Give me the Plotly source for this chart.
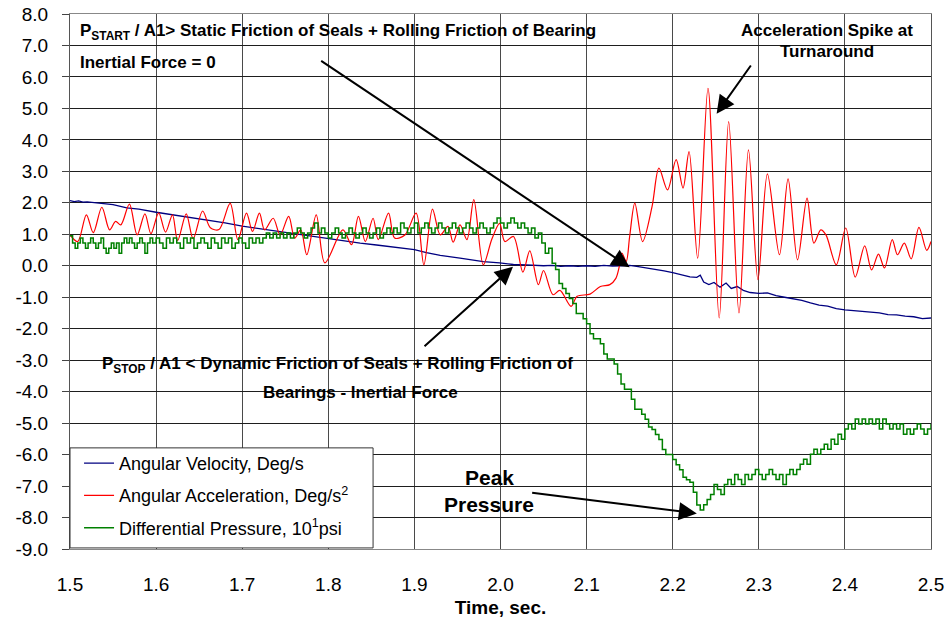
import plotly.graph_objects as go

# ---------------- data ----------------
vel_t = [1.500, 1.505, 1.510, 1.515, 1.520, 1.535, 1.550, 1.566, 1.580, 1.600,
         1.620, 1.633, 1.645, 1.660, 1.680, 1.700, 1.720, 1.740, 1.757, 1.770,
         1.786, 1.800, 1.820, 1.837, 1.856, 1.876, 1.890, 1.900, 1.914, 1.930,
         1.953, 1.970, 1.980, 1.999, 2.015, 2.030, 2.050, 2.060, 2.070, 2.080,
         2.090, 2.100, 2.110, 2.120, 2.130, 2.140, 2.150, 2.160, 2.170, 2.180,
         2.190, 2.200, 2.210, 2.220, 2.228, 2.232, 2.236, 2.242, 2.248, 2.255,
         2.262, 2.268, 2.275, 2.282, 2.290, 2.300, 2.310, 2.320, 2.330, 2.340,
         2.350, 2.360, 2.370, 2.380, 2.390, 2.400, 2.410, 2.420, 2.430, 2.440,
         2.450, 2.460, 2.470, 2.480, 2.490, 2.500]
vel_v = [2.07, 2.04, 2.06, 2.02, 2.03, 1.98, 1.94, 1.84, 1.80, 1.70,
         1.62, 1.57, 1.50, 1.44, 1.36, 1.26, 1.18, 1.10, 1.04, 1.00,
         0.93, 0.88, 0.80, 0.72, 0.66, 0.59, 0.55, 0.51, 0.42, 0.33,
         0.24, 0.18, 0.13, 0.09, 0.04, 0.03, 0.00, 0.01, -0.02, 0.00,
         -0.02, 0.00, -0.02, 0.01, -0.01, 0.00, 0.01, -0.03, -0.07, -0.10,
         -0.16, -0.22, -0.28, -0.35, -0.37, -0.30, -0.52, -0.60, -0.53, -0.68,
         -0.55, -0.72, -0.66, -0.78, -0.85, -0.88, -0.86, -0.95, -1.00, -1.05,
         -1.10, -1.18, -1.25, -1.28, -1.36, -1.40, -1.42, -1.45, -1.48, -1.50,
         -1.55, -1.56, -1.60, -1.62, -1.68, -1.66]

acc_t = [1.500, 1.509, 1.519, 1.527, 1.537, 1.546, 1.553, 1.559, 1.569, 1.578,
         1.587, 1.594, 1.603, 1.611, 1.619, 1.625, 1.635, 1.643, 1.654, 1.663,
         1.673, 1.686, 1.695, 1.705, 1.712, 1.720, 1.726, 1.736, 1.744, 1.754,
         1.761, 1.768, 1.775, 1.786, 1.796, 1.817, 1.827, 1.835, 1.843, 1.852,
         1.858, 1.870, 1.877, 1.889, 1.902, 1.911, 1.921, 1.930, 1.939, 1.945,
         1.953, 1.961, 1.969, 1.980, 1.990, 1.999, 2.005, 2.015, 2.026, 2.034,
         2.044, 2.050, 2.061, 2.069, 2.082, 2.089, 2.104, 2.116, 2.127, 2.134,
         2.138, 2.141, 2.146, 2.150, 2.156, 2.165, 2.176, 2.184, 2.194, 2.204,
         2.212, 2.219, 2.229, 2.241, 2.254, 2.265, 2.277, 2.288, 2.299, 2.310,
         2.324, 2.334, 2.345, 2.356, 2.364, 2.372, 2.378, 2.390, 2.401, 2.412,
         2.423, 2.431, 2.439, 2.446, 2.455, 2.461, 2.469, 2.477, 2.486, 2.495,
         2.500]
acc_v = [0.98, 0.77, 1.62, 1.05, 1.86, 1.14, 1.41, 1.30, 1.96, 0.98,
         1.65, 1.02, 1.68, 1.07, 1.62, 0.80, 1.65, 0.86, 1.74, 1.21,
         1.15, 1.98, 0.83, 1.67, 1.09, 1.67, 1.14, 1.51, 0.98, 1.57,
         0.88, 1.14, 0.35, 1.62, 0.09, 1.14, 0.67, 1.57, 0.77, 1.51,
         0.83, 1.67, 0.88, 0.98, 1.67, 0.03, 1.80, 0.98, 1.25, 0.75,
         1.30, 0.83, 2.10, 0.03, 0.85, 1.35, 0.77, 0.93, -0.20, 0.47,
         -0.60, -0.15, -0.92, -0.78, -1.29, -0.97, -0.90, -0.66, -0.60, -0.40,
         -0.02, 0.40, 0.14, 0.93, 1.99, 0.77, 1.88, 3.10, 2.41, 3.37,
         2.47, 3.63, 0.24, 5.64, -1.66, 4.58, -1.50, 3.68, -0.44, 2.92,
         0.35, 2.76, 0.19, 2.15, 0.72, 1.14, 0.98, 0.03, 1.20, -0.36,
         0.63, -0.13, 0.37, -0.07, 0.83, 0.35, 0.72, 0.22, 1.22, 0.49,
         0.77]

dp_t = [1.500, 1.503, 1.506, 1.509, 1.512, 1.515, 1.518, 1.521, 1.524, 1.527,
        1.530, 1.533, 1.536, 1.539, 1.542, 1.545, 1.548, 1.551, 1.554, 1.557,
        1.560, 1.563, 1.566, 1.569, 1.572, 1.575, 1.578, 1.581, 1.584, 1.587,
        1.590, 1.593, 1.596, 1.600, 1.604, 1.608, 1.612, 1.616, 1.620, 1.624,
        1.628, 1.632, 1.636, 1.640, 1.644, 1.648, 1.652, 1.656, 1.660, 1.664,
        1.668, 1.672, 1.676, 1.680, 1.684, 1.688, 1.692, 1.696, 1.700, 1.704,
        1.708, 1.712, 1.716, 1.720, 1.724, 1.728, 1.732, 1.736, 1.740, 1.744,
        1.748, 1.752, 1.756, 1.760, 1.764, 1.768, 1.772, 1.776, 1.780, 1.784,
        1.788, 1.792, 1.796, 1.800, 1.804, 1.808, 1.812, 1.816, 1.820, 1.824,
        1.828, 1.832, 1.836, 1.840, 1.844, 1.848, 1.852, 1.856, 1.860, 1.864,
        1.868, 1.872, 1.876, 1.880, 1.884, 1.888, 1.892, 1.896, 1.900, 1.904,
        1.908, 1.912, 1.916, 1.920, 1.924, 1.928, 1.932, 1.936, 1.940, 1.944,
        1.948, 1.952, 1.956, 1.960, 1.964, 1.968, 1.972, 1.976, 1.980, 1.984,
        1.988, 1.992, 1.996, 2.000, 2.004, 2.008, 2.012, 2.016, 2.020, 2.024,
        2.028, 2.032, 2.036, 2.040, 2.044, 2.048, 2.052, 2.056, 2.060, 2.064,
        2.068, 2.072, 2.076, 2.080, 2.084, 2.088, 2.092, 2.096, 2.100, 2.104,
        2.108, 2.112, 2.116, 2.120, 2.124, 2.128, 2.132, 2.136, 2.140, 2.144,
        2.148, 2.152, 2.156, 2.160, 2.164, 2.168, 2.172, 2.176, 2.180, 2.184,
        2.188, 2.192, 2.196, 2.200, 2.204, 2.208, 2.212, 2.216, 2.220, 2.224,
        2.228, 2.232, 2.236, 2.240, 2.244, 2.248, 2.252, 2.256, 2.260, 2.264,
        2.268, 2.272, 2.276, 2.280, 2.284, 2.288, 2.292, 2.296, 2.300, 2.304,
        2.308, 2.312, 2.316, 2.320, 2.324, 2.328, 2.332, 2.336, 2.340, 2.344,
        2.348, 2.352, 2.356, 2.360, 2.364, 2.368, 2.372, 2.376, 2.380, 2.384,
        2.388, 2.392, 2.396, 2.400, 2.404, 2.408, 2.412, 2.416, 2.420, 2.424,
        2.428, 2.432, 2.436, 2.440, 2.444, 2.448, 2.452, 2.456, 2.460, 2.464,
        2.468, 2.472, 2.476, 2.480, 2.484, 2.488, 2.492, 2.496, 2.500]
dp_v = [0.95, 0.72, 0.56, 0.72, 0.88, 0.72, 0.56, 0.72, 0.88, 0.72,
        0.56, 0.72, 0.88, 0.56, 0.40, 0.56, 0.72, 0.56, 0.72, 0.40,
        0.72, 0.88, 0.72, 0.88, 0.72, 0.56, 0.72, 0.88, 0.72, 0.40,
        0.72, 0.88, 0.72, 0.88, 0.72, 0.56, 0.88, 0.72, 0.88, 0.72,
        0.56, 0.88, 0.72, 0.88, 0.56, 0.72, 0.88, 0.72, 0.56, 0.88,
        0.72, 0.56, 0.88, 0.72, 0.88, 0.56, 0.72, 0.88, 0.72, 0.56,
        0.88, 0.72, 0.88, 0.72, 0.88, 1.04, 0.88, 1.04, 0.88, 1.04,
        0.88, 1.04, 0.88, 1.04, 1.20, 1.04, 0.88, 1.04, 1.20, 1.36,
        1.04, 1.20, 1.04, 0.88, 1.04, 1.20, 1.04, 0.88, 1.04, 1.20,
        1.04, 0.88, 1.04, 1.20, 1.04, 0.88, 1.04, 1.20, 0.88, 1.04,
        1.20, 1.04, 1.20, 1.04, 1.36, 1.20, 1.04, 1.20, 1.36, 1.04,
        1.20, 1.36, 1.20, 1.04, 1.20, 1.36, 1.20, 1.04, 1.20, 1.36,
        1.20, 1.04, 1.20, 1.36, 1.20, 1.04, 1.20, 1.36, 1.20, 1.04,
        1.20, 1.36, 1.52, 1.36, 1.20, 1.36, 1.52, 1.36, 1.20, 1.36,
        1.20, 1.04, 1.20, 0.88, 1.04, 0.72, 0.40, 0.56, 0.08, -0.12,
        -0.56, -0.72, -0.88, -1.04, -1.20, -1.52, -1.52, -1.68, -1.84, -2.16,
        -2.32, -2.32, -2.48, -2.80, -2.96, -2.96, -3.12, -3.44, -3.76, -3.92,
        -3.92, -4.24, -4.56, -4.56, -4.72, -4.88, -5.12, -5.20, -5.36, -5.52,
        -5.84, -6.00, -6.00, -6.16, -6.32, -6.48, -6.72, -6.80, -6.88, -7.20,
        -7.60, -7.76, -7.59, -7.43, -7.27, -6.95, -7.11, -7.27, -6.95, -6.79,
        -6.95, -6.63, -6.79, -6.95, -6.63, -6.79, -6.63, -6.47, -6.63, -6.79,
        -6.63, -6.47, -6.63, -6.79, -6.63, -6.95, -6.63, -6.47, -6.63, -6.47,
        -6.31, -6.15, -6.31, -5.99, -5.83, -5.99, -5.83, -5.67, -5.83, -5.51,
        -5.67, -5.35, -5.51, -5.19, -5.03, -5.19, -4.87, -5.03, -4.87, -5.03,
        -4.87, -5.03, -4.87, -5.19, -4.87, -5.03, -5.19, -5.03, -5.19, -5.03,
        -5.35, -5.19, -5.35, -5.19, -5.03, -5.19, -5.35, -5.19, -5.03]

x_ticks = [1.5, 1.6, 1.7, 1.8, 1.9, 2.0, 2.1, 2.2, 2.3, 2.4, 2.5]
x_tick_text = ["1.5", "1.6", "1.7", "1.8", "1.9", "2.0", "2.1", "2.2", "2.3", "2.4", "2.5"]
y_ticks = [8, 7, 6, 5, 4, 3, 2, 1, 0, -1, -2, -3, -4, -5, -6, -7, -8, -9]
y_tick_text = ["8.0", "7.0", "6.0", "5.0", "4.0", "3.0", "2.0", "1.0", "0.0", "-1.0",
               "-2.0", "-3.0", "-4.0", "-5.0", "-6.0", "-7.0", "-8.0", "-9.0"]

FONT = "Liberation Sans, Arial, sans-serif"

fig = go.Figure()
fig.add_trace(go.Scatter(x=vel_t, y=vel_v, mode="lines", name="Angular Velocity, Deg/s",
                         line=dict(color="#000080", width=1.3), legendgroup="a", legendrank=1))
fig.add_trace(go.Scatter(x=acc_t, y=acc_v, mode="lines", name="Angular Acceleration, Deg/s<sup>2</sup>",
                         line=dict(color="#FF0000", width=1.2, shape="spline", smoothing=0.9),
                         legendgroup="b", legendrank=2))
fig.add_trace(go.Scatter(x=dp_t, y=dp_v, mode="lines", name="Differential Pressure, 10<sup>1</sup>psi",
                         line=dict(color="#008000", width=1.5, shape="hv"),
                         legendgroup="c", legendrank=3))

# white boxes behind the texts (between grid and data)
boxes = [(0.0, 0.619, 0.877, 1.0), (0.776, 1.0, 0.910, 1.0),
         (0.021, 0.604, 0.256, 0.376), (0.4216, 0.554, 0.039, 0.172)]
for x0, x1, y0, y1 in boxes:
    fig.add_shape(type="rect", xref="paper", yref="paper", x0=x0, x1=x1, y0=y0, y1=y1,
                  fillcolor="white", line=dict(width=0), layer="between")

# legend frame (px 70-373, 448-548)
fig.add_shape(type="rect", xref="paper", yref="paper", x0=0.0, x1=0.352, y0=0.002, y1=0.189,
              fillcolor="white", line=dict(color="#333333", width=1), layer="above")

bold = dict(family=FONT, size=17, color="black")
texts = [
    ("<b>P<sub>START</sub> / A1> Static Friction of Seals + Rolling Friction of Bearing</b>", 0.0093, 0.966, "left"),
    ("<b>Inertial Force = 0</b>", 0.0093, 0.910, "left"),
    ("<b>Acceleration Spike at</b>", 0.879, 0.970, "center"),
    ("<b>Turnaround</b>", 0.879, 0.929, "center"),
    ("<b>P<sub>STOP</sub> / A1 < Dynamic Friction of Seals + Rolling Friction of</b>", 0.0348, 0.344, "left"),
    ("<b>Bearings - Inertial Force</b>", 0.337, 0.292, "center"),
]
for t, xp, yp, anc in texts:
    fig.add_annotation(text=t, xref="paper", yref="paper", x=xp, y=yp, xanchor=anc,
                       yanchor="middle", showarrow=False, font=bold)
for t, yp in [("<b>Peak</b>", 0.133), ("<b>Pressure</b>", 0.084)]:
    fig.add_annotation(text=t, xref="paper", yref="paper", x=0.487, y=yp, xanchor="center",
                       yanchor="middle", showarrow=False, font=dict(family=FONT, size=21, color="black"))

# arrows: (head x, head y, tail x, tail y)
arrows = [(2.150, -0.05, 1.790, 6.54), (2.251, 4.83, 2.292, 6.41),
          (2.0145, -0.03, 1.910, -2.60), (2.228, -7.87, 2.035, -7.21)]
for hx, hy, tx, ty in arrows:
    fig.add_annotation(x=hx, y=hy, ax=tx, ay=ty, xref="x", yref="y", axref="x", ayref="y",
                       text="", showarrow=True, arrowhead=2, arrowsize=1.8, arrowwidth=2,
                       arrowcolor="black")

fig.update_layout(
    width=950, height=627,
    margin=dict(l=70, r=19, t=14, b=78),
    paper_bgcolor="white", plot_bgcolor="white",
    font=dict(family=FONT, color="black"),
    showlegend=True,
    legend=dict(x=0.0105, y=0.004, xanchor="left", yanchor="bottom", bgcolor="rgba(0,0,0,0)",
                borderwidth=0, font=dict(family=FONT, size=18),
                tracegroupgap=6, itemwidth=30),
)
fig.update_xaxes(range=[1.5, 2.5], tickvals=x_ticks, ticktext=x_tick_text, automargin=False,
                 showgrid=True, gridcolor="#4a4a4a", gridwidth=1, zeroline=False,
                 showline=True, linecolor="#888888", mirror=True, ticks="",
                 tickfont=dict(family=FONT, size=19), ticklabelstandoff=18,
                 title=dict(text="<b>Time, sec.</b>", font=dict(family=FONT, size=19), standoff=6))
fig.update_yaxes(range=[-9, 8], tickvals=y_ticks, ticktext=y_tick_text, automargin=False,
                 showgrid=True, gridcolor="#1e1e1e", gridwidth=1, zeroline=False,
                 showline=True, linecolor="#555555", mirror=True, ticks="outside", ticklen=7,
                 tickcolor="#444444", tickfont=dict(family=FONT, size=19), ticklabelstandoff=10)

fig.write_html("out.html")
